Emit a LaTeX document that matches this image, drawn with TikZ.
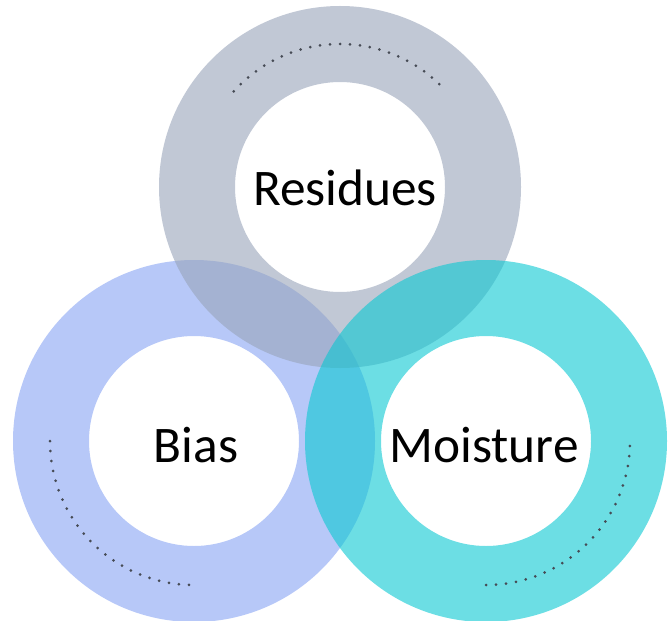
\documentclass[tikz,border=0pt]{standalone}
\usepackage{fontspec}
\setmainfont{Carlito}
\usepackage{xcolor}
\usepackage{tikz}
\usetikzlibrary{calc}

\definecolor{ringgray}{RGB}{152,163,185}
\definecolor{ringblue}{RGB}{135,163,243}
\definecolor{ringcyan}{RGB}{10,200,210}
\definecolor{dotgray}{RGB}{70,75,85}

\begin{document}
\begin{tikzpicture}[x=0.025cm,y=0.025cm,
    ring/.style={fill opacity=0.6,even odd rule},
    ringtext/.style={font=\fontsize{36.5}{44}\selectfont,text=black,anchor=base}]
  \useasboundingbox (0,0) rectangle (668,620);
  \coordinate (res) at (340,433);
  \coordinate (bias) at (194,179);
  \coordinate (moist) at (486,179);
  % the three rings, blue at the bottom, cyan on top
  \fill [ringblue,ring] (bias) circle (181) (bias) circle (105);
  \fill [ringgray,ring] (res) circle (181) (res) circle (105);
  \fill [ringcyan,ring] (moist) circle (181) (moist) circle (105);
  % dotted arcs inside the bands
  \foreach \a in {46,50,...,138}
    \fill [dotgray] ($(res)+(\a:143)$) circle (1.5);
  \foreach \a in {180,184,...,270}
    \fill [dotgray] ($(bias)+(\a:144)$) circle (1.5);
  \foreach \a in {-90,-86,...,0}
    \fill [dotgray] ($(moist)+(\a:144)$) circle (1.5);
  \node (restext) [ringtext] at (345,415) {Residues};
  \node (biastext) [ringtext] at (196,158) {Bias};
  \node (moisttext) [ringtext] at (484,158) {Moisture};
\end{tikzpicture}
\end{document}
